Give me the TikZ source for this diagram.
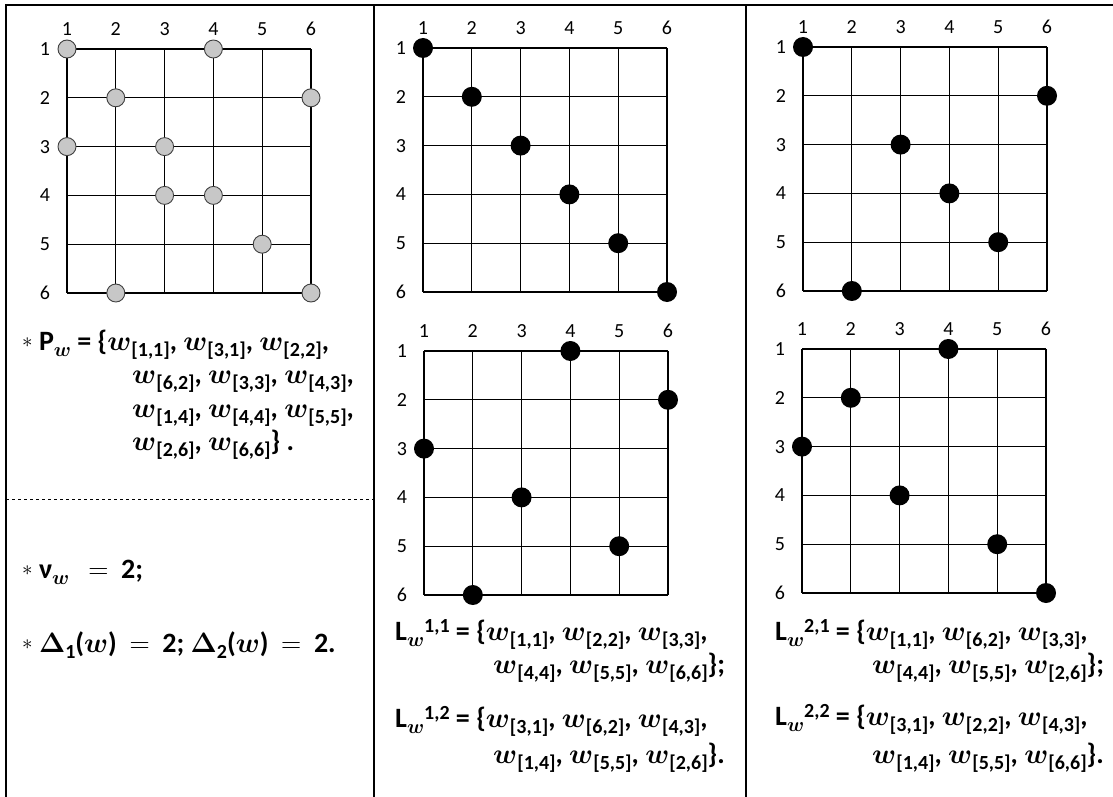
\RequirePackage{fix-cm}
\documentclass[tikz,border=0pt]{standalone}
\usepackage{amsmath, amssymb}
\usepackage{fontspec}
\setmainfont{Carlito}
\usepackage{tikz}
\usetikzlibrary{positioning}

\newcommand{\gs}{48.8}
\newcommand{\smallast}{\raisebox{3pt}{\fontsize{21}{21}\selectfont$\ast$}}
\newcommand{\sw}{\raisebox{-6pt}{\fontsize{20}{20}\selectfont$\boldsymbol{w}$}}
\newcommand{\ww}[1]{$\boldsymbol{w}$\raisebox{-6.5pt}{\fontsize{20}{20}\selectfont\bfseries[#1]}}
\newcommand{\lsup}[1]{\raisebox{8pt}{\fontsize{20}{20}\selectfont\bfseries #1}}
\newcommand{\dsub}[1]{\raisebox{-6pt}{\fontsize{20}{20}\selectfont\bfseries #1}}

% one lattice: name, x, y, dot style, points col/row
\newcommand{\latgrid}[5]{%
  \begin{scope}[shift={(#2,#3)}]
    \foreach \k in {0,...,5} {
      \draw[gridline] (0,\k*\gs) -- (5*\gs,\k*\gs);
      \draw[gridline] (\k*\gs,0) -- (\k*\gs,5*\gs);
    }
    \foreach \k in {1,...,6} {
      \node[numlbl] (#1-c\k) at ({(\k-1)*\gs},-20) {\k};
      \node[numlbl] (#1-r\k) at (-22,{(\k-1)*\gs}) {\k};
    }
    \foreach \c/\r in {#5}
      \node[#4] (#1-\c-\r) at ({(\c-1)*\gs},{(\r-1)*\gs}) {};
  \end{scope}}

\begin{document}
\begin{tikzpicture}[
  x=1pt, y=-1pt,
  frame/.style={line width=1.3pt},
  gridline/.style={line width=1.1pt},
  numlbl/.style={font=\fontsize{20}{20}\selectfont, inner sep=0pt},
  greydot/.style={circle, draw=black!75, fill=black!22, line width=0.9pt, minimum size=18pt, inner sep=0pt},
  blackdot/.style={circle, fill=black, minimum size=20pt, inner sep=0pt},
  txt/.style={anchor=base west, inner sep=0pt, font=\fontsize{28}{30}\selectfont\bfseries}
]
\useasboundingbox (0,0) rectangle (1113,797);

% Frame
\draw[frame] (6,797) -- (6,5) -- (1113,5);
\draw[frame] (374,5) -- (374,797);
\draw[frame] (746,5) -- (746,797);
\draw[dashed, line width=0.8pt] (6,499) -- (374,499);

% Lattices
\latgrid{pw}{67}{49}{greydot}{1/1,4/1,2/2,6/2,1/3,3/3,3/4,4/4,5/5,2/6,6/6}
\latgrid{la}{423}{48}{blackdot}{1/1,2/2,3/3,4/4,5/5,6/6}
\latgrid{lb}{424}{351}{blackdot}{4/1,6/2,1/3,3/4,5/5,2/6}
\latgrid{lc}{803}{47}{blackdot}{1/1,6/2,3/3,4/4,5/5,2/6}
\latgrid{ld}{802}{349}{blackdot}{4/1,2/2,1/3,3/4,5/5,6/6}

% Left column text
\node[txt] (pw1) at (22,350) {\smallast\ P\sw\ = \{\ww{1,1}, \ww{3,1}, \ww{2,2},};
\node[txt] (pw2) at (132,383) {\ww{6,2}, \ww{3,3}, \ww{4,3},};
\node[txt] (pw3) at (132,417) {\ww{1,4}, \ww{4,4}, \ww{5,5},};
\node[txt] (pw4) at (132,450) {\ww{2,6}, \ww{6,6}\} .};
\node[txt] (nu) at (22,578) {\smallast\ ν\sw\ \ \ $=$\ \ 2;};
\node[txt] (dl) at (22,652) {\smallast\ $\boldsymbol{\Delta}$\dsub{1}($\boldsymbol{w}$)\ \ $=$\ \ 2;\ $\boldsymbol{\Delta}$\dsub{2}($\boldsymbol{w}$)\ \ $=$\ \ 2.};

% Middle column text
\node[txt] (la1) at (395,640) {L\sw\lsup{1,1} = \{\ww{1,1}, \ww{2,2}, \ww{3,3},};
\node[txt] (la2) at (493,673) {\ww{4,4}, \ww{5,5}, \ww{6,6}\};};
\node[txt] (lb1) at (395,727) {L\sw\lsup{1,2} = \{\ww{3,1}, \ww{6,2}, \ww{4,3},};
\node[txt] (lb2) at (493,763) {\ww{1,4}, \ww{5,5}, \ww{2,6}\}.};

% Right column text
\node[txt] (lc1) at (775,640) {L\sw\lsup{2,1} = \{\ww{1,1}, \ww{6,2}, \ww{3,3},};
\node[txt] (lc2) at (872,673) {\ww{4,4}, \ww{5,5}, \ww{2,6}\};};
\node[txt] (ld1) at (775,725) {L\sw\lsup{2,2} = \{\ww{3,1}, \ww{2,2}, \ww{4,3},};
\node[txt] (ld2) at (872,763) {\ww{1,4}, \ww{5,5}, \ww{6,6}\}.};
\end{tikzpicture}
\end{document}
